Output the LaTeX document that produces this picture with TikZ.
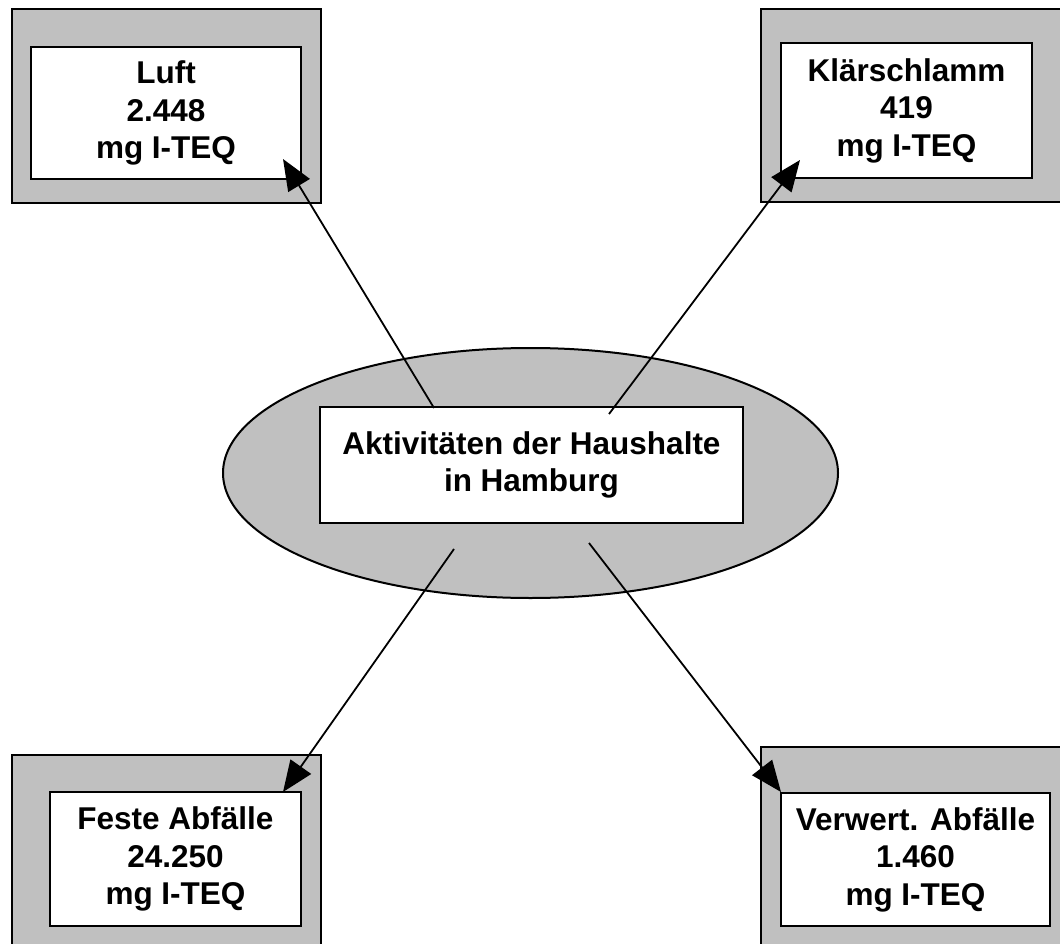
\documentclass[tikz,border=0pt]{standalone}
\usepackage{fontspec}
\setmainfont{Liberation Sans}
\usetikzlibrary{shapes.geometric,arrows.meta}
\definecolor{boxgray}{RGB}{192,192,192}
\tikzset{
  outerbox/.style={draw=black, fill=boxgray, line width=2pt, rectangle, inner sep=0pt},
  innerbox/.style={draw=black, fill=white, line width=2pt, rectangle, inner sep=0pt, align=center,
    font=\fontsize{31.5}{37.5}\selectfont\bfseries},
  centerellipse/.style={draw=black, fill=boxgray, line width=2pt, ellipse, inner sep=0pt},
  flow/.style={line width=1.8pt, -{Triangle[length=31pt,width=25pt]}}
}
\begin{document}
\begin{tikzpicture}[x=1pt,y=-1pt]
\useasboundingbox (0,0) rectangle (1060,944);
\clip (0,0) rectangle (1060,944);
% outer gray frames
\node[outerbox, minimum width=309pt, minimum height=193.5pt] (o1) at (166.5,106.25) {};
\node[outerbox, minimum width=309pt, minimum height=193pt] (o2) at (915.5,105.5) {};
\node[outerbox, minimum width=309pt, minimum height=205pt] (o3) at (166.5,857.5) {};
\node[outerbox, minimum width=309pt, minimum height=213pt] (o4) at (915.5,853.5) {};
% inner white boxes
\node[innerbox, minimum width=270pt, minimum height=132pt] (luft) at (166,113) {Luft\\2.448\\mg I-TEQ};
\node[innerbox, minimum width=251pt, minimum height=135pt] (klaer) at (906.5,110.5) {Klärschlamm\\419\\mg I-TEQ};
\node[innerbox, minimum width=251pt, minimum height=134pt] (feste) at (175.5,859) {Feste Abfälle\\24.250\\mg I-TEQ};
\node[innerbox, minimum width=269pt, minimum height=133pt] (verw) at (915.5,859.5) {Verwert. Abfälle\\1.460\\mg I-TEQ};
% centre
\node[centerellipse, minimum width=615pt, minimum height=250pt] (ell) at (530.5,473) {};
\node[innerbox, minimum width=423pt, minimum height=116pt] (hh) at (531.5,465) {Aktivitäten der Haushalte\\in Hamburg};
% arrow end points
\coordinate (s1) at (434,408);
\coordinate (t1) at (283,159);
\coordinate (s2) at (609,414);
\coordinate (t2) at (800,160);
\coordinate (s3) at (454,549);
\coordinate (t3) at (283,792);
\coordinate (s4) at (589,543);
\coordinate (t4) at (781,792);
\draw[flow] (s1) -- (t1);
\draw[flow] (s2) -- (t2);
\draw[flow] (s3) -- (t3);
\draw[flow] (s4) -- (t4);
\end{tikzpicture}
\end{document}
